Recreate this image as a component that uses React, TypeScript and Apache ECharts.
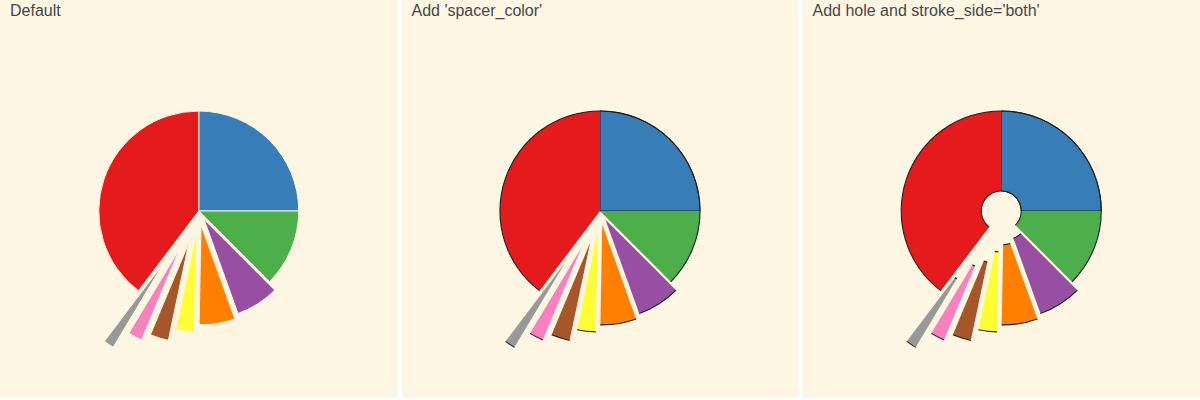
import React, { useEffect, useRef } from "react";
import * as echarts from "echarts";

const categories = ["blue", "green", "purple", "orange", "yellow", "brown", "pink", "grey", "red"];
const values = [25, 12.5, 7.0, 5.8, 3.0, 3.0, 2.3, 1.7, 39.7];
const explodeOffsets = [0, 0, 10, 14, 21, 33, 41, 61, 0];
const sliceColors = ["#377EB8", "#4DAF4A", "#984EA3", "#FF7F00", "#FFFF33", "#A65628", "#F781BF", "#999999", "#E41A1C"];
const titles = ["Default", "Add 'spacer_color'", "Add hole and stroke_side='both'"];

const BG = "#FDF6E3";
const STROKE = "#1f1f1f";

type Panel = { left: number; width: number; hole: number; mode: number };
const panels: Panel[] = [
  { left: 0, width: 397.5, hole: 0, mode: 0 },
  { left: 401.5, width: 397, hole: 0, mode: 1 },
  { left: 802.5, width: 397.5, hole: 20, mode: 2 },
];
const PANEL_H = 398;
const R = 100;
const CY = 211;

export default function App() {
  const ref = useRef<HTMLDivElement>(null);
  useEffect(() => {
    if (!ref.current) return;
    const chart = echarts.init(ref.current, null, { renderer: "svg" });
    const total = values.reduce((a, b) => a + b, 0);
    const mids: number[] = [];
    let cum = 0;
    values.forEach((v) => {
      mids.push(((cum + v / 2) / total) * 2 * Math.PI);
      cum += v;
    });

    const series: any[] = [];
    const graphics: any[] = [];

    const base = (center: number[], radius: number[], data: any[], z: number) => ({
      type: "pie",
      center,
      radius,
      startAngle: 90,
      clockwise: true,
      silent: true,
      animation: false,
      avoidLabelOverlap: false,
      label: { show: false },
      labelLine: { show: false },
      emphasis: { disabled: true },
      z,
      data,
    });

    panels.forEach((p, pi) => {
      const cx = p.left + p.width / 2;
      graphics.push({
        type: "rect",
        shape: { x: p.left, y: 0, width: p.width, height: PANEL_H },
        style: { fill: BG },
        z: -10,
        silent: true,
      });
      graphics.push({
        type: "text",
        x: p.left + 10,
        y: 2,
        style: {
          text: titles[pi],
          font: '16px "Liberation Sans", Arial, sans-serif',
          fill: "#474747",
          verticalAlign: "top",
        },
        z: 10,
      });
      values.forEach((_, i) => {
        const off = explodeOffsets[i];
        const center = [cx + off * Math.sin(mids[i]), CY - off * Math.cos(mids[i])];
        const fillData = values.map((v, j) => ({
          name: categories[j],
          value: v,
          itemStyle:
            j === i
              ? {
                  color: sliceColors[j],
                  opacity: 1,
                  borderColor: p.mode === 0 ? BG : j === 0 ? STROKE : "transparent",
                  borderWidth: p.mode === 0 ? 1 : j === 0 ? 1 : 0,
                }
              : { color: "transparent", opacity: 0, borderWidth: 0 },
        }));
        series.push(base(center, [p.hole, R], fillData, 2));
        if (p.mode > 0) {
          const ringData = values.map((v, j) => ({
            name: categories[j],
            value: v,
            itemStyle: j === i ? { color: STROKE, opacity: 1, borderWidth: 0 } : { color: "transparent", opacity: 0, borderWidth: 0 },
          }));
          series.push(base(center, [R - 0.5, R + 0.6], ringData, 3));
          if (p.hole > 0) {
            series.push(base(center, [p.hole - 0.6, p.hole + 0.5], ringData, 3));
          }
        }
      });
    });

    chart.setOption({
      animation: false,
      backgroundColor: "#ffffff",
      series,
      graphic: graphics,
    });
    return () => chart.dispose();
  }, []);
  return <div ref={ref} style={{ position: "fixed", left: 0, top: 0, width: 1200, height: 400 }} />;
}
